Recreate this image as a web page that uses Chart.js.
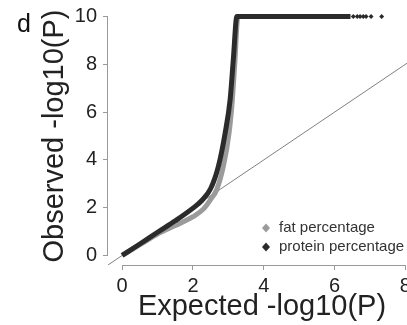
<!DOCTYPE html>
<html>
<head>
<meta charset="utf-8">
<script src="https://cdn.jsdelivr.net/npm/chart.js@4"></script>
<style>
  html, body { margin: 0; padding: 0; background: #fff; overflow: hidden; }
  #wrap { position: absolute; left: 0; top: 0; width: 440px; height: 325px; }
</style>
</head>
<body>
<div id="wrap"><canvas id="qq" width="440" height="325"></canvas></div>
<script>
// tick labels
var xTicks = [0, 2, 4, 6, 8];
var yTicks = [0, 2, 4, 6, 8, 10];

// protein percentage
var proteinX = [0, 0.5, 1.0, 1.5, 2.0, 2.25, 2.5, 2.72, 2.91, 3.05, 3.14, 3.24, 4.0, 5.0, 6.0, 6.45];
var proteinY = [0, 0.48, 0.97, 1.45, 1.98, 2.3, 2.8, 3.74, 5.13, 6.53, 8.2, 10, 10, 10, 10, 10];
// last few separate points at the cap
var proteinTailX = [6.53, 6.64, 6.72, 6.81, 6.89, 7.03, 7.33];
var proteinTailY = [10, 10, 10, 10, 10, 10, 10];

// fat percentage
var fatX = [0, 0.5, 1.0, 1.5, 2.0, 2.3, 2.5, 2.67, 2.86, 3.02, 3.1, 3.18, 3.27, 4.0, 5.0, 6.0];
var fatY = [0, 0.45, 0.9, 1.25, 1.62, 1.95, 2.35, 2.75, 3.74, 5.13, 6.3, 8.0, 10, 10, 10, 10];

// y = x reference line ends
var refX = [-0.5, 8.5];
var refY = [-0.5, 8.5];

var FONT = "'Liberation Sans', Arial, sans-serif";

function pts(xs, ys) {
  return xs.map(function (v, i) { return { x: v, y: ys[i] }; });
}

// R style axis lines: only from first to last tick
var axisLines = {
  id: "axisLines",
  afterDraw: function (chart) {
    var c = chart.ctx, xs = chart.scales.x, ys = chart.scales.y, a = chart.chartArea;
    c.save();
    c.strokeStyle = "#999";
    c.lineWidth = 1;
    c.beginPath();
    c.moveTo(xs.getPixelForValue(xTicks[0]), a.bottom + 0.5);
    c.lineTo(xs.getPixelForValue(xTicks[xTicks.length - 1]), a.bottom + 0.5);
    c.moveTo(a.left - 0.5, ys.getPixelForValue(yTicks[0]));
    c.lineTo(a.left - 0.5, ys.getPixelForValue(yTicks[yTicks.length - 1]));
    c.stroke();
    c.restore();
  },
};

// legend inside the plot, bottom right, plus the panel letter
var sideText = {
  id: "sideText",
  afterDraw: function (chart) {
    var c = chart.ctx, a = chart.chartArea;
    var items = [chart.data.datasets[2], chart.data.datasets[0]];
    c.save();
    c.font = "15px " + FONT;
    c.textBaseline = "middle";
    c.textAlign = "left";
    items.forEach(function (ds, i) {
      var cx = a.left + 158, cy = a.bottom - 37 + i * 19;
      c.fillStyle = ds.borderColor;
      c.beginPath();
      c.moveTo(cx, cy - 4.5);
      c.lineTo(cx + 4, cy);
      c.lineTo(cx, cy + 4.5);
      c.lineTo(cx - 4, cy);
      c.closePath();
      c.fill();
      c.fillStyle = "#333";
      c.fillText(ds.label, cx + 13, cy);
    });
    c.font = "25px " + FONT;
    c.textBaseline = "alphabetic";
    c.fillStyle = "#111";
    c.fillText("d", 17, 32);
    c.restore();
  },
};

new Chart(document.getElementById("qq"), {
  type: "scatter",
  data: {
    datasets: [
      {
        label: "protein percentage",
        data: pts(proteinX, proteinY),
        showLine: true,
        borderColor: "#2b2b2b",
        backgroundColor: "#2b2b2b",
        borderWidth: 5,
        pointRadius: 0,
        cubicInterpolationMode: "monotone",
        order: 0,
      },
      {
        label: "protein tail",
        data: pts(proteinTailX, proteinTailY),
        showLine: false,
        pointStyle: "rectRot",
        pointRadius: 2.5,
        borderWidth: 0,
        backgroundColor: "#2b2b2b",
        borderColor: "#2b2b2b",
        order: 0,
      },
      {
        label: "fat percentage",
        data: pts(fatX, fatY),
        showLine: true,
        borderColor: "#9b9b9b",
        backgroundColor: "#9b9b9b",
        borderWidth: 5,
        pointRadius: 0,
        cubicInterpolationMode: "monotone",
        order: 1,
      },
      {
        label: "expected",
        data: pts(refX, refY),
        showLine: true,
        borderColor: "#808080",
        borderWidth: 1,
        pointRadius: 0,
        order: 2,
      },
    ],
  },
  options: {
    responsive: false,
    animation: false,
    devicePixelRatio: 1,
    layout: { padding: { top: 7, right: 24, left: 0, bottom: 0 } },
    plugins: { legend: { display: false }, tooltip: { enabled: false } },
    scales: {
      x: {
        type: "linear",
        min: -0.4,
        max: 8.3,
        afterBuildTicks: function (s) { s.ticks = xTicks.map(function (v) { return { value: v }; }); },
        afterFit: function (s) { s.height = 60; s.paddingLeft = 0; s.paddingRight = 0; },
        border: { display: false },
        grid: { drawOnChartArea: false, drawTicks: true, tickLength: 5, color: "#999" },
        ticks: { color: "#222", padding: 4, maxRotation: 0, font: { size: 20, family: FONT } },
        title: {
          display: true,
          text: "Expected -log10(P)",
          color: "#222",
          font: { size: 29, family: FONT, lineHeight: 1 },
          padding: { top: 0, bottom: 4 },
        },
      },
      y: {
        type: "linear",
        min: -0.4,
        max: 10.4,
        afterBuildTicks: function (s) { s.ticks = yTicks.map(function (v) { return { value: v }; }); },
        afterFit: function (s) { s.width = 108; s.paddingTop = 0; s.paddingBottom = 0; },
        border: { display: false },
        grid: { drawOnChartArea: false, drawTicks: true, tickLength: 5, color: "#999" },
        ticks: { color: "#222", padding: 6, font: { size: 20, family: FONT } },
        title: {
          display: true,
          text: "Observed -log10(P)",
          color: "#222",
          font: { size: 29, family: FONT, lineHeight: 1 },
          padding: { top: 40, bottom: 0 },
        },
      },
    },
  },
  plugins: [axisLines, sideText],
});
</script>
</body>
</html>
